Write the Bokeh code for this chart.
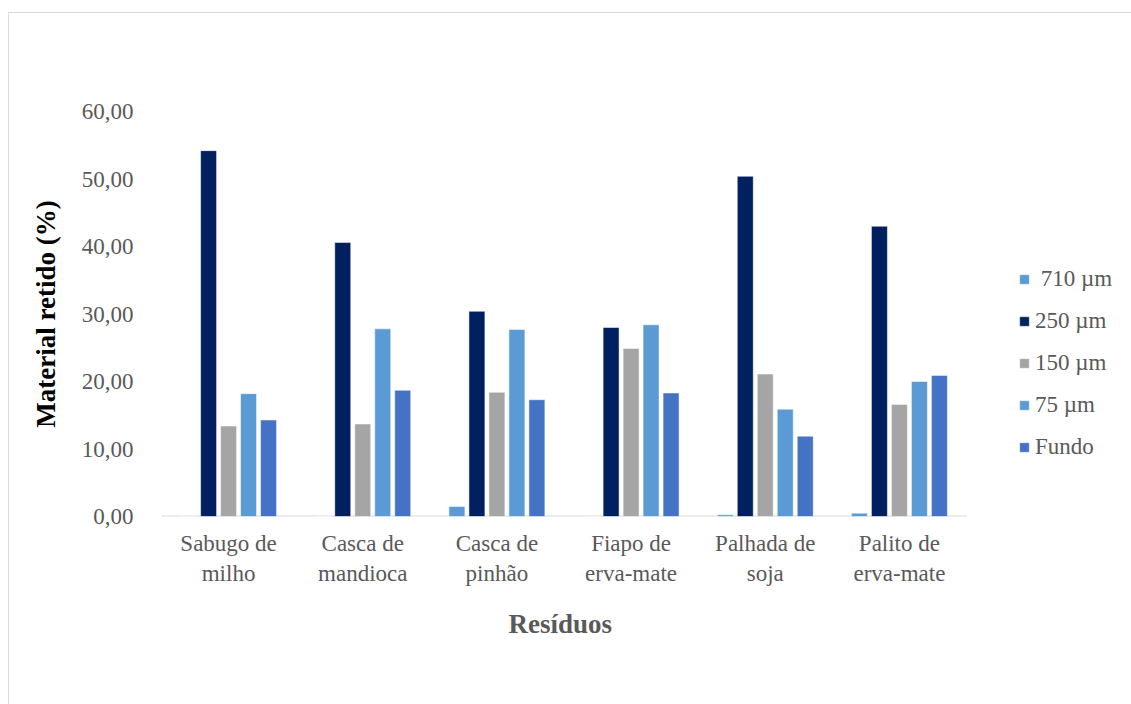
from bokeh.plotting import figure
from bokeh.models import ColumnDataSource, Legend, LegendItem, Range1d, CustomJSTickFormatter, FixedTicker, Title
from bokeh.transform import dodge
from bokeh.embed import file_html
from bokeh.resources import INLINE

categories = ["Sabugo de\nmilho", "Casca de\nmandioca", "Casca de\npinhão",
              "Fiapo de\nerva-mate", "Palhada de\nsoja", "Palito de\nerva-mate"]
series_names = [" 710 µm", "250 µm", "150 µm", "75 µm", "Fundo"]
v710 = [0.0, 0.0, 1.48, 0.0, 0.25, 0.5]
v250 = [54.2, 40.6, 30.4, 28.0, 50.4, 43.0]
v150 = [13.4, 13.7, 18.4, 24.9, 21.1, 16.6]
v75 = [18.2, 27.8, 27.7, 28.4, 15.9, 20.0]
vfundo = [14.3, 18.7, 17.3, 18.3, 11.9, 20.9]
colors = ["#5B9BD5", "#002060", "#A5A5A5", "#5B9BD5", "#4472C4"]
y_ticks = [0, 10, 20, 30, 40, 50, 60]

n = len(categories)
xs = list(range(n))
src = ColumnDataSource(dict(x=xs, s0=v710, s1=v250, s2=v150, s3=v75, s4=vfundo))

FIG_W, FIG_H = 1123, 692
LEFT, TOP, BOTTOM = 152, 98, 189
frame_w = FIG_W - LEFT
band_px = 805 / n  # width of one category band on screen
x_end = -0.5 + frame_w / band_px

p = figure(x_range=Range1d(-0.5, x_end), y_range=Range1d(0, 60),
           width=FIG_W, height=FIG_H, output_backend="svg", toolbar_location=None,
           min_border_left=LEFT, min_border_right=0, min_border_top=TOP, min_border_bottom=BOTTOM)
p.margin = (12, 0, 0, 8)
p.styles = {"border-left": "1px solid #d9d9d9", "border-top": "1px solid #d9d9d9"}
p.outline_line_color = None
p.xgrid.grid_line_color = None
p.ygrid.grid_line_color = None

# category axis baseline
p.segment(x0=[-0.5], x1=[n - 0.5], y0=[0], y1=[0], line_color="#d9d9d9", line_width=2)

pitch = 0.149
offsets = [-2 * pitch, -pitch, 0, pitch, 2 * pitch]
renderers = []
for i, (name, col) in enumerate(zip(series_names, colors)):
    r = p.vbar(x=dodge("x", offsets[i]), top=f"s{i}", width=0.119,
               source=src, fill_color=col, line_color="white", line_width=0.5)
    renderers.append(r)

font = "Liberation Serif"
# y axis
p.yaxis.ticker = FixedTicker(ticks=y_ticks)
p.yaxis.formatter = CustomJSTickFormatter(code="return tick.toFixed(2).replace('.', ',');")
p.yaxis.axis_line_color = None
p.yaxis.major_tick_line_color = None
p.yaxis.minor_tick_line_color = None
p.yaxis.major_label_text_font = font
p.yaxis.major_label_text_font_size = "23px"
p.yaxis.major_label_text_color = "#595959"
p.yaxis.major_label_standoff = 22
p.yaxis.axis_label = "Material retido (%)"
p.yaxis.axis_label_text_font = font
p.yaxis.axis_label_text_font_size = "27px"
p.yaxis.axis_label_text_font_style = "bold"
p.yaxis.axis_label_text_color = "#000000"
p.yaxis.axis_label_standoff = 18

# x axis
p.xaxis.ticker = FixedTicker(ticks=xs)
p.xaxis.major_label_overrides = {i: c for i, c in enumerate(categories)}
p.xaxis.axis_line_color = None
p.xaxis.major_tick_line_color = None
p.xaxis.minor_tick_line_color = None
p.xaxis.major_label_text_font = font
p.xaxis.major_label_text_font_size = "23px"
p.xaxis.major_label_text_color = "#595959"
p.xaxis.major_label_standoff = 8

xtitle = Title(text="Resíduos", align="left", offset=347, standoff=37,
               text_font=font, text_font_size="27px", text_font_style="bold",
               text_color="#595959")
p.add_layout(xtitle, "below")

legend = Legend(items=[LegendItem(label=nm, renderers=[r]) for nm, r in zip(series_names, renderers)],
                location=(857, 56))
legend.border_line_color = None
legend.background_fill_alpha = 0
legend.label_text_font = font
legend.label_text_font_size = "23px"
legend.label_text_color = "#595959"
legend.glyph_width = 12
legend.glyph_height = 12
legend.label_standoff = 5
legend.spacing = 16
legend.padding = 0
legend.margin = 0
p.add_layout(legend, "center")

open("out.html", "w").write(file_html(p, INLINE))
